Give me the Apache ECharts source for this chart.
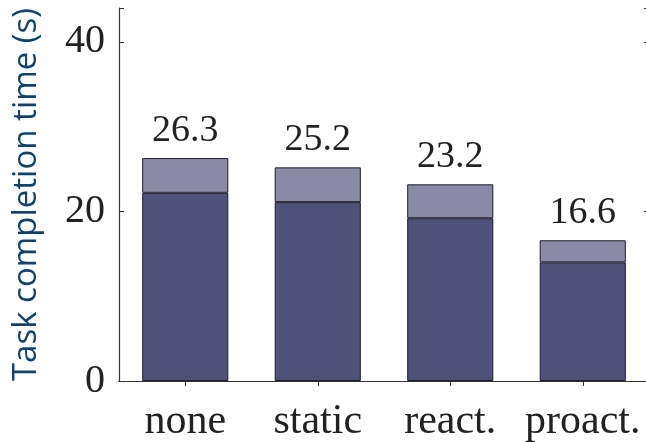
<!DOCTYPE html>
<html>
<head>
<meta charset="utf-8">
<script src="https://cdn.jsdelivr.net/npm/echarts@6/dist/echarts.min.js"></script>
<style>
  html, body { margin: 0; padding: 0; background: #fff; }
  #chart { width: 646px; height: 442px; }
</style>
</head>
<body>
<div id="chart"></div>
<script>
// Strategies compared
const categories = ['none', 'static', 'react.', 'proact.'];
// Lower (dark) part of each bar
const baseTime = [22.2, 21.1, 19.2, 14.0];
// Full bar height, printed above each bar
const totalTime = [26.3, 25.2, 23.2, 16.6];
// Y tick values
const yTicks = [0, 20, 40];

const upperPart = totalTime.map((t, i) => +(t - baseTime[i]).toFixed(2));

const serif = '"Liberation Serif", "DejaVu Serif", serif';
const ink = '#222';

const chart = echarts.init(document.getElementById('chart'), null, { renderer: 'canvas' });

const frameLine = { show: true, lineStyle: { color: '#333', width: 1.2 } };
const innerTick = { show: true, inside: true, length: 5, lineStyle: { color: '#333' } };

chart.setOption({
  animation: false,
  grid: { left: 119, top: 8, width: 530, height: 373, containLabel: false, outerBoundsMode: 'none' },
  xAxis: [
    {
      type: 'category',
      data: categories,
      position: 'bottom',
      axisLine: frameLine,
      axisTick: Object.assign({ alignWithLabel: true }, innerTick),
      axisLabel: { interval: 0, hideOverlap: false, margin: 20, fontFamily: serif, fontSize: 42, color: ink },
      splitLine: { show: false }
    },
    {
      type: 'category',
      data: categories,
      position: 'top',
      axisLine: frameLine,
      axisTick: Object.assign({ alignWithLabel: true }, innerTick),
      axisLabel: { show: false },
      splitLine: { show: false }
    }
  ],
  yAxis: [
    {
      type: 'value',
      min: 0,
      max: 44,
      interval: 20,
      position: 'left',
      name: 'Task completion time (s)',
      nameLocation: 'middle',
      nameGap: 76,
      nameTextStyle: { fontFamily: '"Open Sans", "Noto Sans", sans-serif', fontSize: 33, color: '#12436d' },
      axisLine: frameLine,
      axisTick: innerTick,
      splitLine: { show: false },
      axisLabel: {
        margin: 14, fontFamily: serif, fontSize: 40, color: ink,
        formatter: v => (yTicks.includes(v) ? String(v) : '')
      }
    },
    {
      type: 'value',
      min: 0,
      max: 44,
      interval: 20,
      position: 'right',
      axisLine: frameLine,
      axisTick: innerTick,
      splitLine: { show: false },
      axisLabel: { show: false }
    }
  ],
  series: [
    {
      type: 'bar',
      stack: 'time',
      data: baseTime,
      barWidth: '65%',
      itemStyle: { color: '#505177', borderColor: '#1e1e2e', borderWidth: 1 }
    },
    {
      type: 'bar',
      stack: 'time',
      data: upperPart,
      barWidth: '65%',
      itemStyle: { color: '#8a8aa6', borderColor: '#1e1e2e', borderWidth: 1 },
      label: {
        show: true,
        position: 'top',
        distance: 8,
        fontFamily: serif,
        fontSize: 38,
        color: ink,
        formatter: p => totalTime[p.dataIndex].toFixed(1)
      }
    }
  ]
});
</script>
</body>
</html>
